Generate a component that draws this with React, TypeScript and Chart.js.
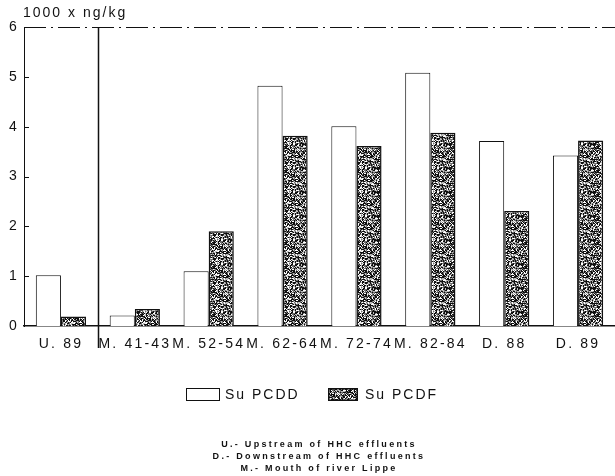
import React, { useEffect, useRef } from "react";
import { Chart, registerables } from "chart.js";

Chart.register(...registerables);

const categories = ["U. 89", "M. 41-43", "M. 52-54", "M. 62-64", "M. 72-74", "M. 82-84", "D. 88", "D. 89"];
const pcddValues = [1.02, 0.21, 1.1, 4.82, 4.01, 5.08, 3.71, 3.42];
const pcdfValues = [0.19, 0.34, 1.9, 3.82, 3.61, 3.88, 2.31, 3.72];
const yTickValues = [0, 1, 2, 3, 4, 5, 6];
const seriesNames = ["Su PCDD", "Su PCDF"];
const unitLabel = "1000 x ng/kg";
const footnotes = [
  "U.- Upstream of HHC effluents",
  "D.- Downstream of HHC effluents",
  "M.- Mouth of river Lippe",
];

const FONT = '"Liberation Sans", Arial, Helvetica, sans-serif';

function makePatternCanvas(): HTMLCanvasElement {
  const size = 24;
  const c = document.createElement("canvas");
  c.width = size;
  c.height = size;
  const ctx = c.getContext("2d")!;
  const img = ctx.createImageData(size, size);
  for (let y = 0; y < size; y++) {
    for (let x = 0; x < size; x++) {
      let h = (Math.imul(x + 7, 374761393) + Math.imul(y + 13, 668265263)) >>> 0;
      h = Math.imul(h ^ (h >>> 13), 1274126177) >>> 0;
      h = (h ^ (h >>> 16)) >>> 0;
      const r = h % 100;
      const v = r < 40 ? 15 : r < 62 ? 110 : r < 80 ? 190 : 255;
      const i = (y * size + x) * 4;
      img.data[i] = v;
      img.data[i + 1] = v;
      img.data[i + 2] = v;
      img.data[i + 3] = 255;
    }
  }
  ctx.putImageData(img, 0, 0);
  return c;
}

const decorPlugin = {
  id: "decor",
  beforeDraw(chart: any) {
    (chart.ctx as any).letterSpacing = "2.2px";
  },
  afterDraw(chart: any) {
    const { ctx, chartArea: a, scales } = chart;
    const x = scales.x;
    const y = scales.y;
    ctx.save();
    (ctx as any).letterSpacing = "0px";
    ctx.strokeStyle = "#111";
    // top dash-dot line at max value
    const yt = Math.round(y.getPixelForValue(yTickValues[yTickValues.length - 1])) + 0.5;
    ctx.lineWidth = 1.2;
    ctx.setLineDash([22, 5, 2, 5]);
    ctx.beginPath();
    ctx.moveTo(a.left, yt);
    ctx.lineTo(a.right, yt);
    ctx.stroke();
    // divider between upstream and river mouth
    ctx.setLineDash([]);
    ctx.lineWidth = 1.5;
    const xd = Math.round((x.getPixelForValue(0) + x.getPixelForValue(1)) / 2) + 0.5;
    ctx.beginPath();
    ctx.moveTo(xd, yt);
    ctx.lineTo(xd, a.bottom + 22);
    ctx.stroke();
    // inner tick marks on y axis
    ctx.lineWidth = 1;
    for (const v of yTickValues) {
      if (v === 0) continue;
      const py = Math.round(y.getPixelForValue(v)) + 0.5;
      ctx.beginPath();
      ctx.moveTo(a.left, py);
      ctx.lineTo(a.left + 5, py);
      ctx.stroke();
    }
    ctx.restore();
  },
};

export default function App() {
  const canvasRef = useRef<HTMLCanvasElement | null>(null);
  const swatchRef = useRef<HTMLCanvasElement | null>(null);

  useEffect(() => {
    document.body.style.margin = "0";
    const patternCanvas = makePatternCanvas();
    const canvas = canvasRef.current!;
    const ctx = canvas.getContext("2d")!;
    const pattern = ctx.createPattern(patternCanvas, "repeat")!;

    const sw = swatchRef.current;
    if (sw) {
      const sctx = sw.getContext("2d")!;
      sctx.fillStyle = sctx.createPattern(patternCanvas, "repeat")!;
      sctx.fillRect(0, 0, sw.width, sw.height);
      sctx.strokeStyle = "#111";
      sctx.lineWidth = 1.5;
      sctx.strokeRect(0.75, 0.75, sw.width - 1.5, sw.height - 1.5);
    }

    const chart = new Chart(canvas, {
      type: "bar",
      data: {
        labels: categories,
        datasets: [
          {
            label: seriesNames[0],
            data: pcddValues,
            backgroundColor: "#ffffff",
            borderColor: "#111",
            borderWidth: 1,
            categoryPercentage: 0.68,
            barPercentage: 1.0,
          },
          {
            label: seriesNames[1],
            data: pcdfValues,
            backgroundColor: pattern as any,
            borderColor: "#111",
            borderWidth: 1.5,
            categoryPercentage: 0.68,
            barPercentage: 1.0,
          },
        ],
      },
      options: {
        responsive: false,
        animation: false,
        devicePixelRatio: 1,
        layout: { padding: { top: 27, left: 0, right: 0, bottom: 0 } },
        plugins: {
          legend: { display: false },
          tooltip: { enabled: false },
          title: { display: false },
        },
        scales: {
          x: {
            grid: { display: false, drawTicks: false },
            border: { display: true, color: "#111", width: 1.5 },
            ticks: {
              color: "#111",
              font: { family: FONT, size: 14 },
              padding: 10,
              maxRotation: 0,
              autoSkip: false,
            },
            afterFit(scale: any) {
              scale.height = 150;
            },
          },
          y: {
            min: 0,
            max: 6,
            grid: { display: false, drawTicks: false },
            border: { display: true, color: "#111", width: 1, dash: [12, 4] },
            ticks: {
              stepSize: 1,
              color: "#111",
              font: { family: FONT, size: 14 },
              padding: 5,
            },
            afterFit(scale: any) {
              scale.width = 24;
            },
          },
        },
      },
      plugins: [decorPlugin],
    });
    return () => chart.destroy();
  }, []);

  return (
    <div
      style={{
        position: "fixed",
        left: 0,
        top: 0,
        width: 615,
        height: 476,
        background: "#fff",
        fontFamily: FONT,
        color: "#111",
      }}
    >
      <canvas ref={canvasRef} width={615} height={476} style={{ position: "absolute", left: 0, top: 0 }} />
      <div
        style={{
          position: "absolute",
          left: 23,
          top: 5,
          fontSize: 14,
          lineHeight: "14px",
          letterSpacing: "2px",
          whiteSpace: "nowrap",
        }}
      >
        {unitLabel}
      </div>
      {/* legend */}
      <div
        style={{
          position: "absolute",
          left: 186,
          top: 388,
          width: 32,
          height: 11,
          border: "1px solid #111",
          background: "#fff",
        }}
      />
      <div
        style={{
          position: "absolute",
          left: 225,
          top: 387,
          fontSize: 14,
          lineHeight: "14px",
          letterSpacing: "2px",
          whiteSpace: "nowrap",
        }}
      >
        {seriesNames[0]}
      </div>
      <canvas
        ref={swatchRef}
        width={30}
        height={13}
        style={{ position: "absolute", left: 328, top: 388 }}
      />
      <div
        style={{
          position: "absolute",
          left: 365,
          top: 387,
          fontSize: 14,
          lineHeight: "14px",
          letterSpacing: "2px",
          whiteSpace: "nowrap",
        }}
      >
        {seriesNames[1]}
      </div>
      {/* footnotes */}
      <div
        style={{
          position: "absolute",
          left: 0,
          top: 438,
          width: 638,
          textAlign: "center",
          fontSize: 9,
          fontWeight: "bold",
          lineHeight: "12px",
          letterSpacing: "2.3px",
        }}
      >
        {footnotes.map((t) => (
          <div key={t}>{t}</div>
        ))}
      </div>
    </div>
  );
}
